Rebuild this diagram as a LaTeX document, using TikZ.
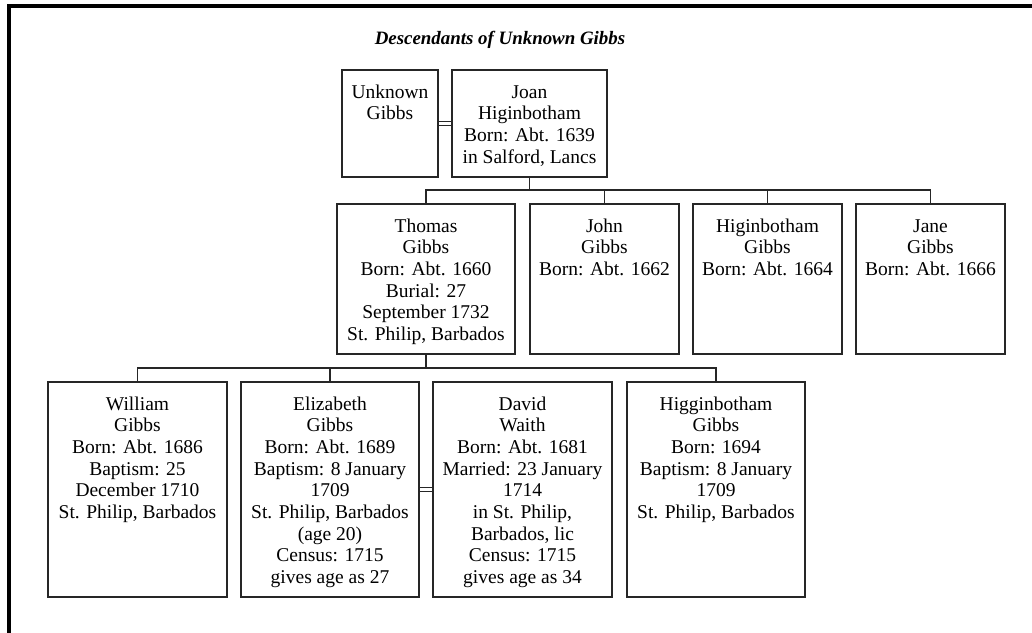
\documentclass[tikz,border=0pt]{standalone}
\usepackage{fontspec}
\setmainfont{Liberation Serif}
% Card contents: fixed width and height, lines centred, first baseline 28pt below the top
\newcommand\cardtext[3]{\parbox[t][#2][t]{#1}{\centering\rule{0pt}{28pt}#3}}
\begin{document}
\begin{tikzpicture}[x=1pt,y=-1pt,
  font=\fontsize{19.5pt}{21.7pt}\selectfont,
  person/.style={draw=black!85, line width=1.3pt, inner sep=0pt, anchor=center},
  link/.style={draw=black!85, line width=1.1pt},
  frame/.style={draw=black, line width=4pt, line join=miter}]
\useasboundingbox (0,0) rectangle (1032,632);

% page frame (top and left edges)
\draw[frame] (8.7,640) -- (8.7,5.5) -- (1040,5.5);

\node[font=\fontsize{18.9pt}{22pt}\selectfont\bfseries\itshape] (title) at (500,40) {Descendants of Unknown Gibbs};

% generation 1
\node[person] (unknown) at (390,123.5) {\cardtext{96pt}{107pt}{Unknown\\Gibbs}};
\node[person] (joan) at (529.5,123.5) {\cardtext{155pt}{107pt}{Joan\\Higinbotham\\Born: Abt. 1639\\in Salford, Lancs}};

% generation 2
\node[person] (thomas) at (426,279) {\cardtext{178pt}{150pt}{Thomas\\Gibbs\\Born: Abt. 1660\\Burial: 27\\September 1732\\St. Philip, Barbados}};
\node[person] (john) at (604.5,279) {\cardtext{149pt}{150pt}{John\\Gibbs\\Born: Abt. 1662}};
\node[person] (higinbotham) at (767.5,279) {\cardtext{149pt}{150pt}{Higinbotham\\Gibbs\\Born: Abt. 1664}};
\node[person] (jane) at (930.5,279) {\cardtext{149pt}{150pt}{Jane\\Gibbs\\Born: Abt. 1666}};

% generation 3
\node[person] (william) at (137.5,489.5) {\cardtext{179pt}{215pt}{William\\Gibbs\\Born: Abt. 1686\\Baptism: 25\\December 1710\\St. Philip, Barbados}};
\node[person] (elizabeth) at (330,489.5) {\cardtext{178pt}{215pt}{Elizabeth\\Gibbs\\Born: Abt. 1689\\Baptism: 8 January\\1709\\St. Philip, Barbados\\(age 20)\\Census: 1715\\gives age as 27}};
\node[person] (david) at (522.5,489.5) {\cardtext{179pt}{215pt}{David\\Waith\\Born: Abt. 1681\\Married: 23 January\\1714\\in St. Philip,\\Barbados, lic\\Census: 1715\\gives age as 34}};
\node[person] (higginbotham) at (716,489.5) {\cardtext{178pt}{215pt}{Higginbotham\\Gibbs\\Born: 1694\\Baptism: 8 January\\1709\\St. Philip, Barbados}};

% marriages
\draw[link] ([yshift=2pt]unknown.east) -- ([yshift=2pt]joan.west);
\draw[link] ([yshift=-2pt]unknown.east) -- ([yshift=-2pt]joan.west);
\draw[link] ([yshift=2pt]elizabeth.east) -- ([yshift=2pt]david.west);
\draw[link] ([yshift=-2pt]elizabeth.east) -- ([yshift=-2pt]david.west);

% children of Unknown Gibbs and Joan Higinbotham
\coordinate (fam1) at (529.5,190);
\draw[link] (joan.south) -- (fam1);
\draw[link] (thomas.north) |- (fam1) -| (jane.north);
\draw[link] (john.north) -- (john.north |- fam1);
\draw[link] (higinbotham.north) -- (higinbotham.north |- fam1);

% children of Thomas Gibbs
\coordinate (fam2) at (426,368);
\draw[link] (thomas.south) -- (fam2);
\draw[link] (william.north) |- (fam2) -| (higginbotham.north);
\draw[link] (elizabeth.north) -- (elizabeth.north |- fam2);
\end{tikzpicture}
\end{document}
